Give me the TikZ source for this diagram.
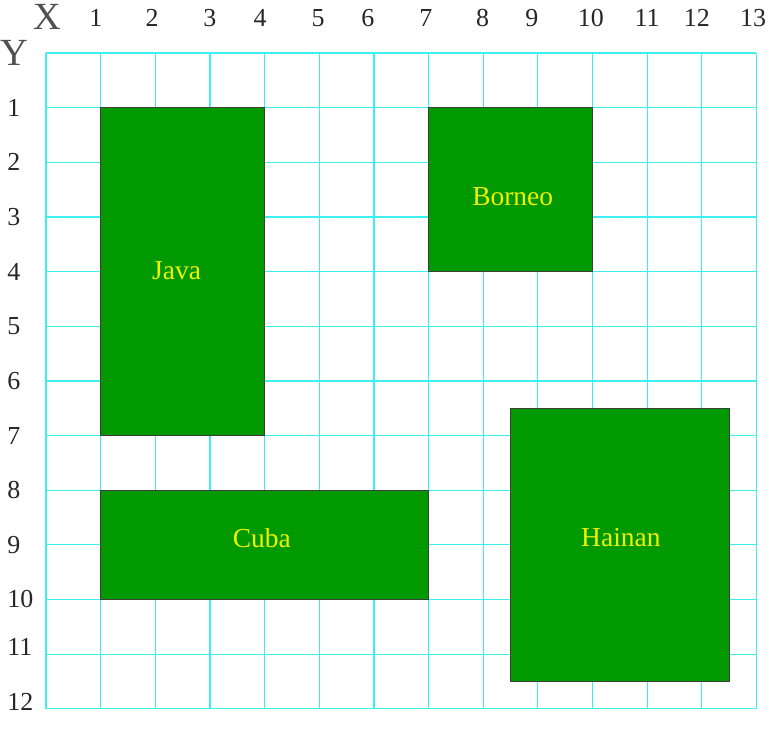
\documentclass[tikz,border=0pt]{standalone}
\usepackage{fontspec}
\setmainfont{Liberation Serif}
\usepackage{tikz}
\usetikzlibrary{positioning}
\usepackage{xcolor}
\definecolor{gridCyan}{RGB}{60, 240, 240}
\definecolor{landGreen}{RGB}{0, 153, 0}
\definecolor{landEdge}{RGB}{60, 60, 60}
\definecolor{landText}{RGB}{240, 240, 0}
\definecolor{axisGray}{RGB}{80, 80, 80}

\begin{document}
\begin{tikzpicture}[
    gridline/.style={draw=gridCyan, line width=0.65pt},
    island/.style={draw=landEdge, line width=0.6pt, fill=landGreen,
      inner sep=0pt, outer sep=0pt},
    islandname/.style={text=landText, font=\fontsize{14.3}{16}\selectfont},
    axisname/.style={text=axisGray, font=\fontsize{20}{22}\selectfont},
    axisnum/.style={text=black!85, font=\fontsize{13.5}{15}\selectfont, inner sep=0pt}
  ]
  \useasboundingbox (-0.842, 0.97) rectangle (13.34, -12.37);
  % the cyan grid
  \draw[gridline] (0, 0) grid (13, -12);
  % axis names and numbers
  \node[axisname] (xname) at (0.02, 0.66) {X};
  \node[axisname] (yname) at (-0.57, 0.0) {Y};
  \foreach \i/\x in {1/0.91, 2/1.94, 3/3.00, 4/3.92, 5/4.98, 6/5.89, 7/6.95,
                     8/7.99, 9/8.89, 10/9.97, 11/11.0, 12/11.91, 13/12.94}
    \node[axisnum] (xl\i) at (\x, 0.64) {\i};
  \foreach \i/\y in {1/1, 2/2, 3/3, 4/4, 5/5, 6/6, 7/7, 8/8, 9/9, 10/10,
                     11/10.87, 12/11.88}
    \node[axisnum, anchor=west] (yl\i) at (-0.714, -\y) {\i};
  % the islands
  \node[island, minimum width=3cm, minimum height=6cm] (java) at (2.5, -4) {};
  \node[island, minimum width=3cm, minimum height=3cm] (borneo) at (8.5, -2.5) {};
  \node[island, minimum width=6cm, minimum height=2cm] (cuba) at (4, -9) {};
  \node[island, minimum width=4cm, minimum height=5cm] (hainan) at (10.5, -9) {};
  \node[islandname] (javaname) at (2.39, -3.98) {Java};
  \node[islandname] (borneoname) at (8.54, -2.62) {Borneo};
  \node[islandname] (cubaname) at (3.95, -8.87) {Cuba};
  \node[islandname] (hainanname) at (10.52, -8.87) {Hainan};
\end{tikzpicture}
\end{document}
